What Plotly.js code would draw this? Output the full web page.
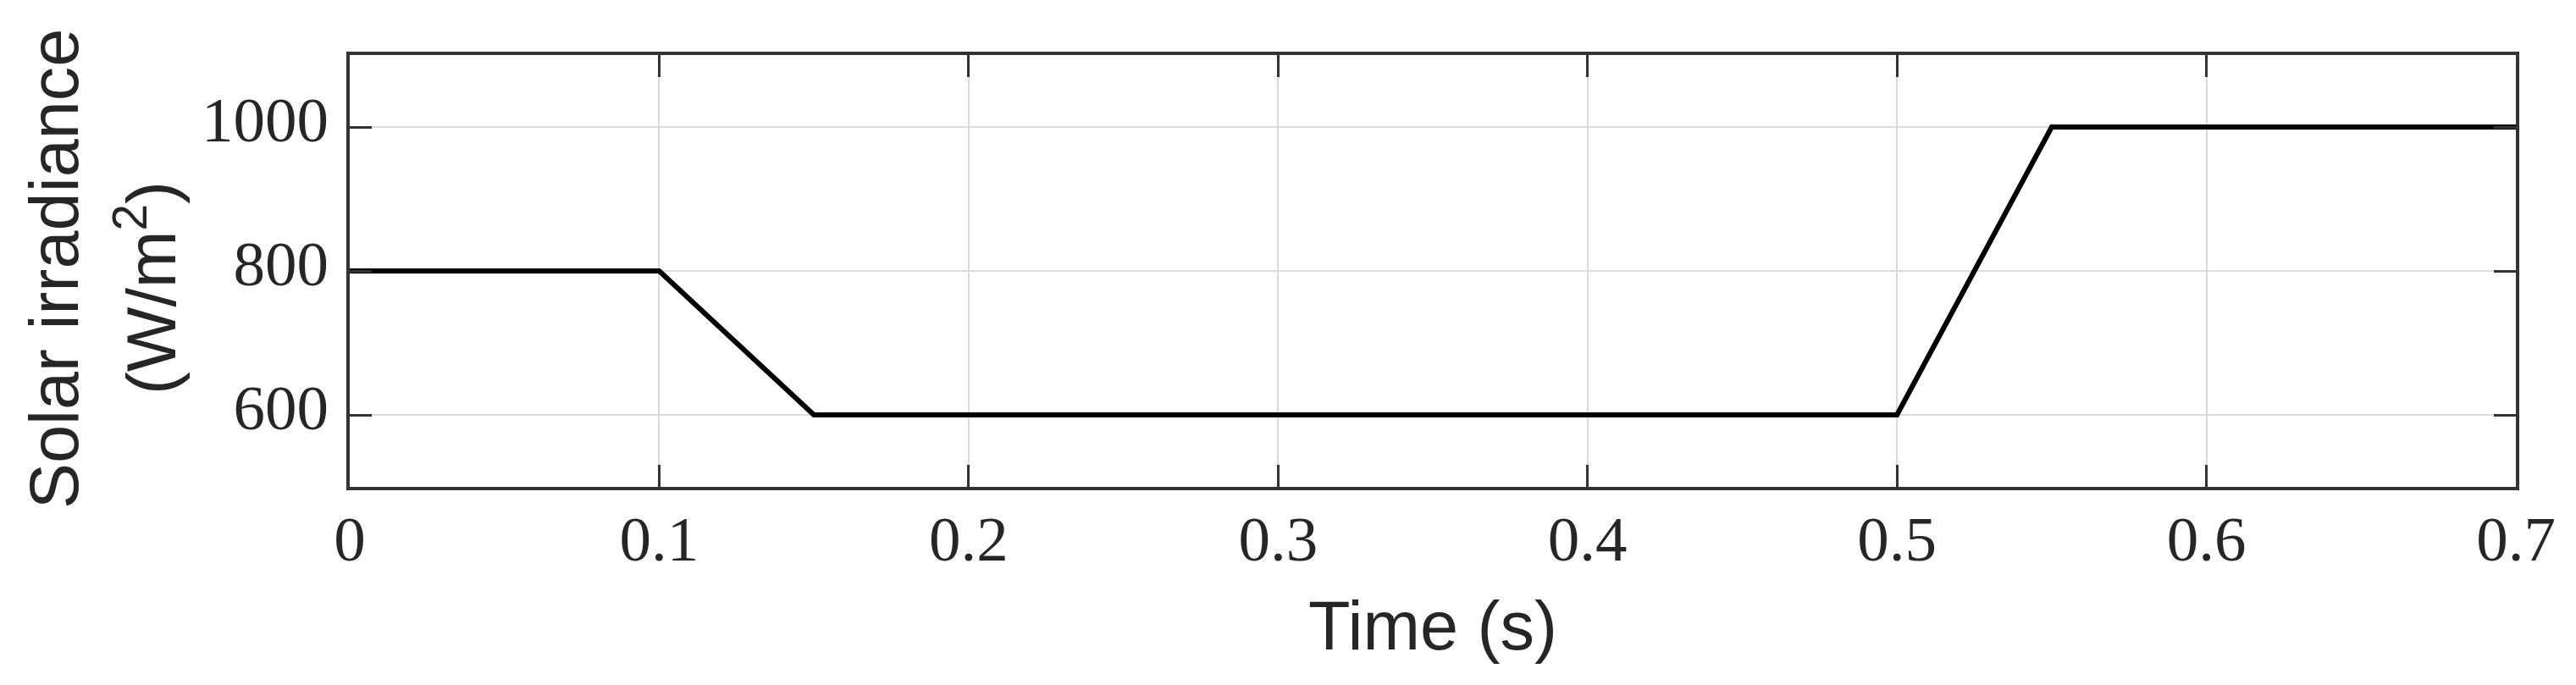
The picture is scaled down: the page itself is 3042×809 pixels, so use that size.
<!DOCTYPE html>
<html>
<head>
<meta charset="utf-8">
<script src="https://cdn.plot.ly/plotly-3.0.1.min.js"></script>
<style>
  html, body { margin: 0; padding: 0; background: #ffffff; }
  #chart { width: 3042px; height: 809px; }
</style>
</head>
<body>
<div id="chart"></div>
<script>
// Data
const timeSeconds = [0, 0.1, 0.15, 0.5, 0.55, 0.7];
const irradiance = [800, 800, 600, 600, 1000, 1000];
const xTickValues = [0, 0.1, 0.2, 0.3, 0.4, 0.5, 0.6, 0.7];
const xTickLabels = ['0', '0.1', '0.2', '0.3', '0.4', '0.5', '0.6', '0.7'];
const yTickValues = [600, 800, 1000];
const yTickLabels = ['600', '800', '1000'];
const xTitle = 'Time (s)';
const yTitleLines = ['Solar irradiance', '(W/m<sup>2</sup>)'];

const axisColor = '#333333';
const gridColor = '#dadada';
const tickFont = { family: 'Liberation Serif, Times New Roman, serif', size: 75, color: '#262626' };
const titleFont = { family: 'Liberation Sans, Arial, Helvetica, sans-serif', size: 81, color: '#262626' };

const trace = {
  type: 'scatter',
  mode: 'lines',
  x: timeSeconds,
  y: irradiance,
  line: { color: '#000000', width: 6 },
  hoverinfo: 'skip',
  showlegend: false
};

const layout = {
  width: 3042,
  height: 809,
  paper_bgcolor: '#ffffff',
  plot_bgcolor: '#ffffff',
  margin: { l: 413, r: 71, t: 65, b: 234, pad: 0 },
  showlegend: false,
  xaxis: {
    range: [0, 0.7],
    tickmode: 'array',
    tickvals: xTickValues,
    ticktext: xTickLabels,
    ticks: 'inside',
    ticklen: 26,
    tickwidth: 3,
    tickcolor: axisColor,
    showline: true,
    linecolor: axisColor,
    linewidth: 4,
    mirror: 'ticks',
    showgrid: true,
    gridcolor: gridColor,
    gridwidth: 2,
    zeroline: false,
    tickfont: tickFont,
    ticklabelstandoff: -7,
    title: { text: xTitle, font: titleFont, standoff: 34 },
    automargin: false,
    fixedrange: true
  },
  yaxis: {
    range: [500, 1100],
    tickmode: 'array',
    tickvals: yTickValues,
    ticktext: yTickLabels,
    ticks: 'inside',
    ticklen: 26,
    tickwidth: 3,
    tickcolor: axisColor,
    showline: true,
    linecolor: axisColor,
    linewidth: 4,
    mirror: 'ticks',
    showgrid: true,
    gridcolor: gridColor,
    gridwidth: 2,
    zeroline: false,
    tickfont: tickFont,
    ticklabelstandoff: 6,
    ticklabelshift: -9,
    automargin: false,
    fixedrange: true
  },
  // Two-line rotated y-axis title, each line placed to match the reference spacing
  annotations: [
    { text: yTitleLines[0], textangle: -90, font: titleFont, showarrow: false,
      xref: 'paper', yref: 'paper', x: 0, y: 0.5, xanchor: 'right', yanchor: 'middle',
      xshift: -302, yshift: 2 },
    { text: yTitleLines[1], textangle: -90, font: titleFont, showarrow: false,
      xref: 'paper', yref: 'paper', x: 0, y: 0.5, xanchor: 'right', yanchor: 'middle',
      xshift: -187, yshift: -20 }
  ]
};

Plotly.newPlot('chart', [trace], layout, { displayModeBar: false, staticPlot: true });
</script>
</body>
</html>
